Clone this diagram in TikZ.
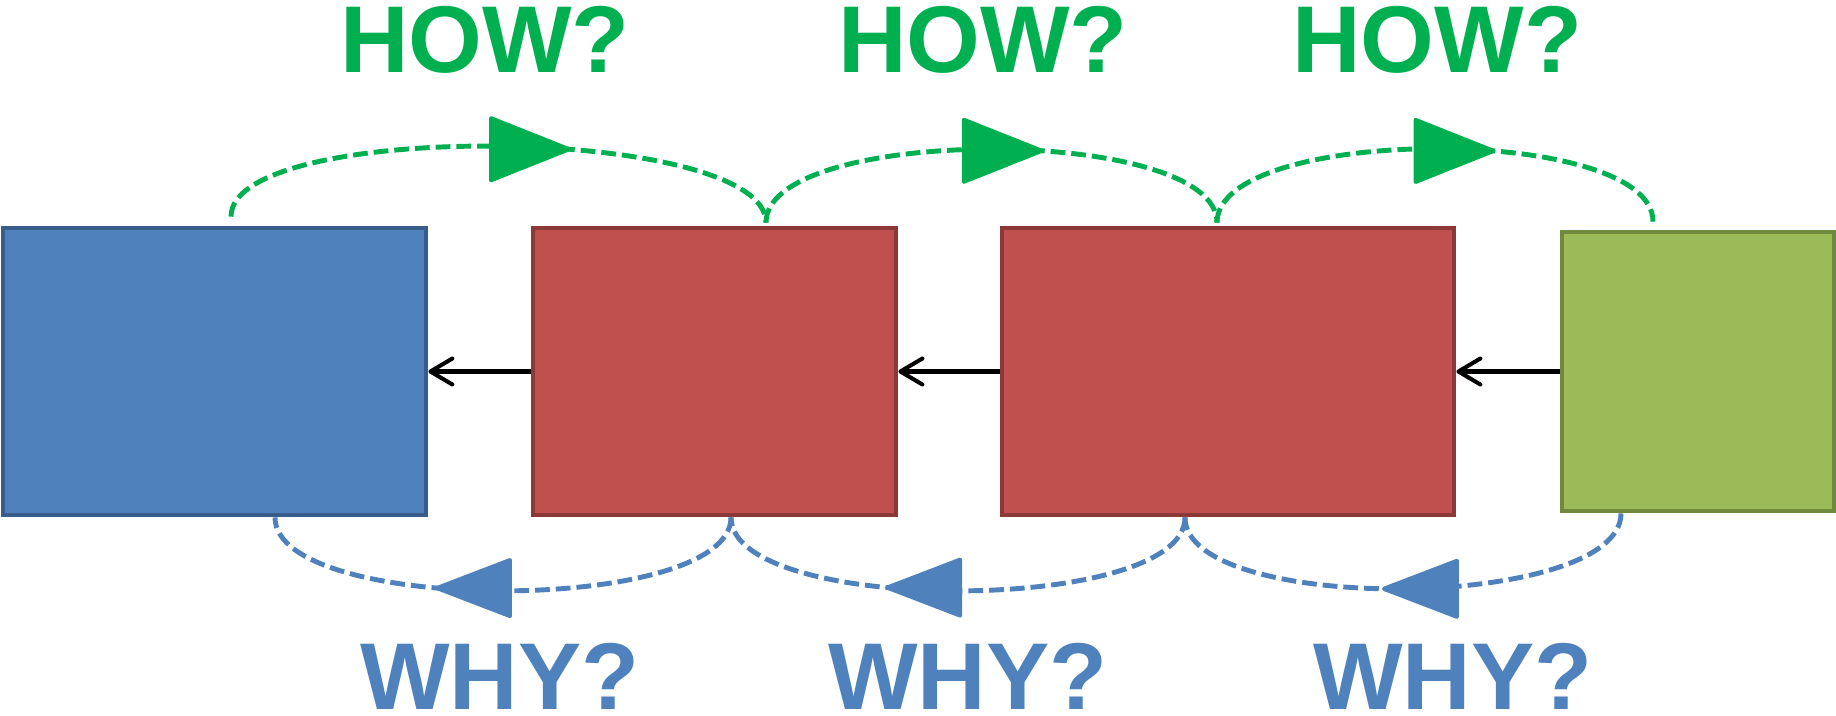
\documentclass[tikz,border=0pt]{standalone}
\usepackage{fontspec}
\setmainfont{Liberation Sans}
\usetikzlibrary{arrows.meta,decorations.markings}

\definecolor{howgreen}{HTML}{00B050}
\definecolor{whyblue}{HTML}{4F81BD}
\definecolor{goalfill}{HTML}{4F81BD}
\definecolor{goaledge}{HTML}{385D8A}
\definecolor{midfill}{HTML}{C0504D}
\definecolor{midedge}{HTML}{8C3836}
\definecolor{taskfill}{HTML}{9BBB59}
\definecolor{taskedge}{HTML}{71893F}

\begin{document}
\begin{tikzpicture}[
    box/.style={rectangle, line width=1.35pt, inner sep=0pt, minimum height=2.87cm},
    back/.style={line width=1.15pt, -{Straight Barb[length=2.2mm,width=2.6mm,round]}},
    dashloop/.style={line width=1.4pt, dash pattern=on 4.2pt off 1.7pt, postaction={decorate}},
    howarc/.style={dashloop, draw=howgreen,
      decoration={markings, mark=at position #1 with {\pgftransformresetnontranslations
        \filldraw[solid, line width=1.15pt, howgreen, line join=round] (0,0) -- (-7.8mm,3.1mm) -- (-7.8mm,-3.1mm) -- cycle;}}},
    whyarc/.style={dashloop, draw=whyblue,
      decoration={markings, mark=at position #1 with {\pgftransformresetnontranslations
        \filldraw[solid, line width=1.15pt, whyblue, line join=round] (0,0) -- (7.3mm,2.8mm) -- (7.3mm,-2.8mm) -- cycle;}}},
    ask/.style={font=\fontsize{27}{27}\selectfont\bfseries, anchor=base, inner sep=0pt, text depth=0pt}
  ]
  \useasboundingbox (0,0) rectangle (18.36,7.15);

  % the chain of boxes
  \node[box, fill=goalfill, draw=goaledge, minimum width=4.23cm] (goal) at (2.145,3.435) {};
  \node[box, fill=midfill, draw=midedge, minimum width=3.63cm] (mida) at (7.145,3.435) {};
  \node[box, fill=midfill, draw=midedge, minimum width=4.52cm] (midb) at (12.28,3.435) {};
  \node[box, fill=taskfill, draw=taskedge, minimum width=2.72cm, minimum height=2.79cm] (task) at (16.98,3.435) {};

  \draw[back] (mida) -- (goal);
  \draw[back] (midb) -- (mida);
  \draw[back] (task) -- (midb);

  % how? above
  \draw[howarc=0.62] ([xshift=1.65mm,yshift=0.9mm]goal.north)
    .. controls +(0,0.98) and +(0,0.98) .. ([xshift=5.15mm,yshift=0.3mm]mida.north);
  \draw[howarc=0.60] ([xshift=5.15mm,yshift=0.3mm]mida.north)
    .. controls +(0,0.98) and +(0,0.98) .. ([xshift=-1.1mm,yshift=0.3mm]midb.north);
  \draw[howarc=0.62] ([xshift=-1.1mm,yshift=0.3mm]midb.north)
    .. controls +(0,0.98) and +(0,0.98) .. ([xshift=-4.5mm,yshift=0.8mm]task.north);

  % why? below
  \draw[whyarc=0.63] ([xshift=1.65mm]mida.south)
    .. controls +(0,-0.98) and +(0,-0.98) .. ([xshift=6.05mm]goal.south);
  \draw[whyarc=0.64] ([xshift=-4.3mm]midb.south)
    .. controls +(0,-0.98) and +(0,-0.98) .. ([xshift=1.65mm]mida.south);
  \draw[whyarc=0.54] ([xshift=-7.7mm]task.south)
    .. controls +(0,-0.98) and +(0,-0.98) .. ([xshift=-4.3mm]midb.south);

  \node[ask, text=howgreen] (howa) at (4.85,6.43) {HOW?};
  \node[ask, text=howgreen] (howb) at (9.83,6.43) {HOW?};
  \node[ask, text=howgreen] (howc) at (14.37,6.43) {HOW?};
  \node[ask, text=whyblue] (whya) at (5.00,0.06) {WHY?};
  \node[ask, text=whyblue] (whyb) at (9.68,0.06) {WHY?};
  \node[ask, text=whyblue] (whyc) at (14.53,0.06) {WHY?};
\end{tikzpicture}
\end{document}
